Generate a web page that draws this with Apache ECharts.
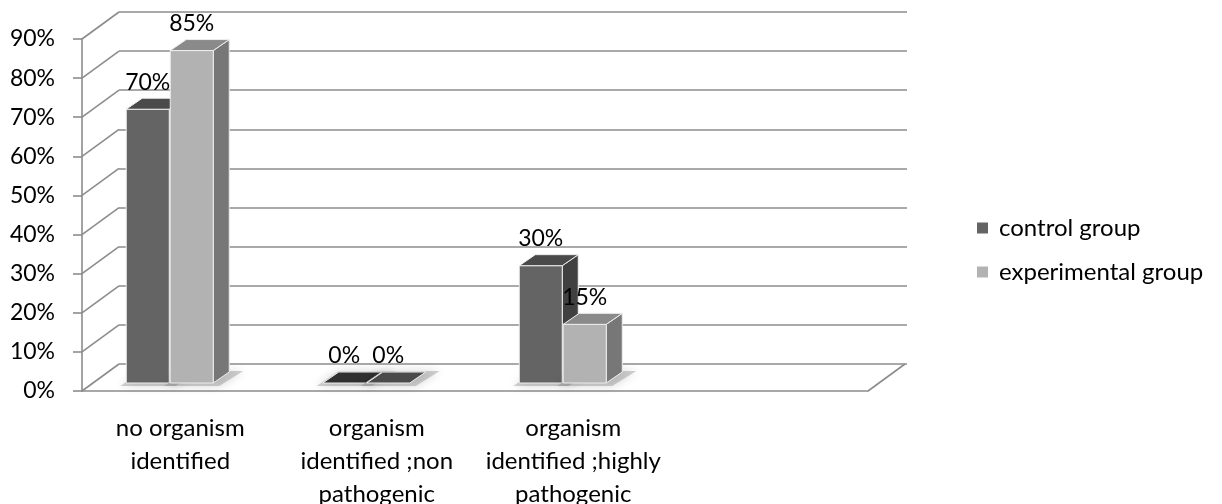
<!DOCTYPE html>
<html><head><meta charset="utf-8">
<script src="https://cdn.jsdelivr.net/npm/echarts@6/dist/echarts.min.js"></script>
<style>html,body{margin:0;padding:0;background:#fff}#c{width:1222px;height:504px}</style>
</head><body><div id="c"></div>
<script>
const categories = ['no organism\nidentified', 'organism\nidentified ;non\npathogenic', 'organism\nidentified ;highly\npathogenic', ''];
const controlGroup = [0.70, 0.00, 0.30, null];
const experimentalGroup = [0.85, 0.00, 0.15, null];
const yTicks = [0, 0.1, 0.2, 0.3, 0.4, 0.5, 0.6, 0.7, 0.8, 0.9];

const FONT = 'Lato';
const FS = 24;     // category / legend text
const NFS = 23;    // numbers
const DEPTH = [37, -27];      // wall depth offset
const BAR_SHIFT = -8;          // bars' front face depth shift (y)
const BAR_W = 43, BAR_DX = 16, BAR_DY = -11;
const LINE = '#8c8c8c';
const pct = v => Math.round(v * 100) + '%';

function barRenderer(offset, front, top, side, zeroTop) {
  return function (params, api) {
    const i = api.value(0), v = api.value(1);
    if (isNaN(v)) return;
    const b = api.coord([i, 0]), t = api.coord([i, v]);
    const x0 = b[0] + offset, x1 = x0 + BAR_W;
    const yb = b[1] + BAR_SHIFT, yt = t[1] + BAR_SHIFT;
    const st = { stroke: '#eeeeee', lineWidth: 1 };
    const kids = [];
    kids.push({ type: 'polygon', shape: { points: [[x0 - 6, yb + 3], [x1 + 6, yb + 3], [x1 + BAR_DX + 14, yb + BAR_DY - 1], [x0 + BAR_DX, yb + BAR_DY - 1]] },
      style: { fill: 'rgba(120,120,120,0.35)', shadowBlur: 10, shadowColor: 'rgba(0,0,0,0.45)' } });
    if (v > 0) {
      kids.push({ type: 'polygon', shape: { points: [[x1, yt], [x1 + BAR_DX, yt + BAR_DY], [x1 + BAR_DX, yb + BAR_DY], [x1, yb]] }, style: Object.assign({ fill: side }, st) });
      kids.push({ type: 'rect', shape: { x: x0, y: yt, width: BAR_W, height: yb - yt }, style: Object.assign({ fill: front }, st) });
      kids.push({ type: 'polygon', shape: { points: [[x0, yt], [x1, yt], [x1 + BAR_DX, yt + BAR_DY], [x0 + BAR_DX, yt + BAR_DY]] }, style: Object.assign({ fill: top }, st) });
    } else {
      kids.push({ type: 'polygon', shape: { points: [[x0, yt], [x1, yt], [x1 + BAR_DX, yt + BAR_DY], [x0 + BAR_DX, yt + BAR_DY]] }, style: Object.assign({ fill: zeroTop }, st) });
    }
    return { type: 'group', children: kids };
  };
}
function labelRenderer(offset) {
  return function (params, api) {
    const i = api.value(0), v = api.value(1);
    if (isNaN(v)) return;
    const t = api.coord([i, v]);
    return { type: 'text', style: { text: pct(v), x: t[0] + offset + BAR_W / 2, y: t[1] + BAR_SHIFT - 27,
      align: 'center', verticalAlign: 'middle', font: NFS + 'px ' + FONT, fill: '#000' } };
  };
}

const chart = echarts.init(document.getElementById('c'));
chart.setOption({
  animation: false,
  textStyle: { fontFamily: FONT },
  legend: {
    orient: 'vertical', left: 972, top: 211, itemWidth: 11, itemHeight: 11, itemGap: 20,
    icon: 'rect', textStyle: { fontSize: FS, lineHeight: 24, color: '#000', fontFamily: FONT, padding: [0, 0, 0, 6] },
    data: ['control group', 'experimental group']
  },
  grid: [
    { left: 82, top: 39, width: 786, height: 352, outerBoundsMode: 'none', containLabel: false },
    { left: 119, top: 12, width: 788, height: 352, outerBoundsMode: 'none', containLabel: false }
  ],
  xAxis: [
    { type: 'category', gridIndex: 0, data: categories,
      axisLine: { lineStyle: { color: LINE, width: 1.6 } },
      axisTick: { length: 8, lineStyle: { color: LINE, width: 1.6 } },
      axisLabel: { interval: 0, margin: 21, fontSize: FS, color: '#000', lineHeight: 33, fontFamily: FONT } },
    { type: 'category', gridIndex: 1, data: categories, show: false }
  ],
  yAxis: [
    { type: 'value', gridIndex: 0, min: 0, max: 0.9, interval: 0.1,
      axisLine: { show: true, lineStyle: { color: LINE, width: 1.6 } },
      axisTick: { show: true, length: 9, lineStyle: { color: LINE, width: 1.6 } },
      splitLine: { show: false },
      axisLabel: { margin: 27, fontSize: NFS, color: '#000', formatter: pct, fontFamily: FONT } },
    { type: 'value', gridIndex: 1, min: 0, max: 0.9, interval: 0.1,
      axisLine: { show: false }, axisTick: { show: false }, axisLabel: { show: false },
      splitLine: { show: true, lineStyle: { color: LINE, width: 1.6 } } }
  ],
  series: [
    {
      type: 'custom', xAxisIndex: 0, yAxisIndex: 0, silent: true, z: 1,
      data: yTicks.map(v => [0, v]),
      renderItem: function (params, api) {
        const cs = params.coordSys;
        const y = api.coord([0, api.value(1)])[1];
        const kids = [{ type: 'line', shape: { x1: cs.x, y1: y, x2: cs.x + DEPTH[0], y2: y + DEPTH[1] }, style: { stroke: LINE, lineWidth: 1.6 } }];
        if (params.dataIndex === 0) {
          kids.push({ type: 'line', shape: { x1: cs.x + cs.width, y1: y, x2: cs.x + cs.width + DEPTH[0], y2: y + DEPTH[1] }, style: { stroke: LINE, lineWidth: 1.6 } });
        }
        return { type: 'group', children: kids };
      }
    },
    { name: 'control group', type: 'custom', xAxisIndex: 0, yAxisIndex: 0, z: 3,
      itemStyle: { color: '#646464' },
      data: controlGroup.map((v, i) => [i, v]),
      renderItem: barRenderer(-54, '#646464', '#4a4a4a', '#404040', '#303030') },
    { name: 'experimental group', type: 'custom', xAxisIndex: 0, yAxisIndex: 0, z: 4,
      itemStyle: { color: '#b2b2b2' },
      data: experimentalGroup.map((v, i) => [i, v]),
      renderItem: barRenderer(-10, '#b2b2b2', '#8a8a8a', '#777777', '#4a4a4a') },
    { type: 'custom', xAxisIndex: 0, yAxisIndex: 0, z: 6, silent: true,
      data: controlGroup.map((v, i) => [i, v]), renderItem: labelRenderer(-54) },
    { type: 'custom', xAxisIndex: 0, yAxisIndex: 0, z: 6, silent: true,
      data: experimentalGroup.map((v, i) => [i, v]), renderItem: labelRenderer(-10) }
  ]
});
</script></body></html>
